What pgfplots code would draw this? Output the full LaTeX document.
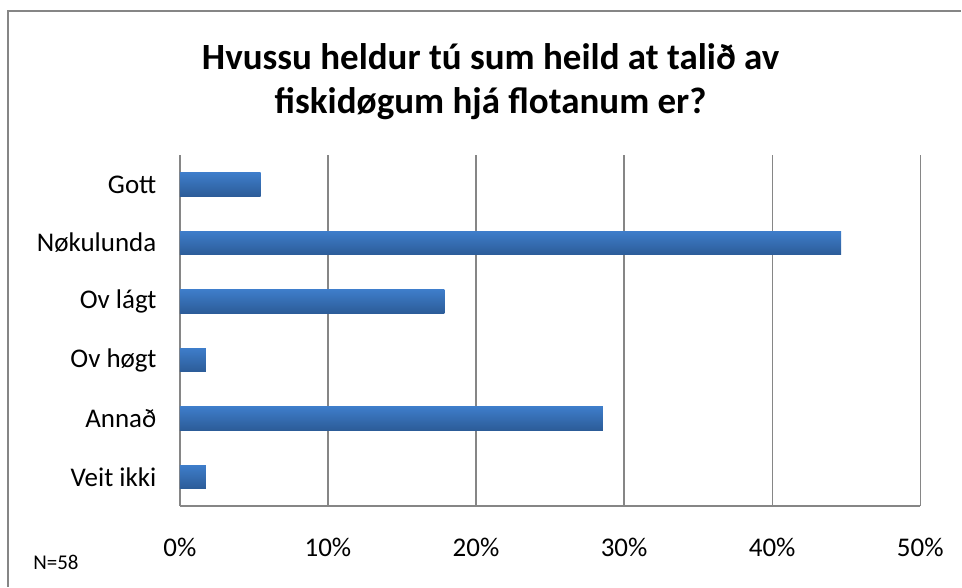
\documentclass[border=0pt]{standalone}
\usepackage{pgfplots}
\pgfplotsset{compat=1.18}
\usepackage{fontspec}
\setmainfont{Carlito}
\definecolor{gridgray}{RGB}{134,134,134}
\definecolor{bartop}{RGB}{62,125,202}
\definecolor{barbot}{RGB}{44,92,152}
\begin{document}
\begin{tikzpicture}[x=1pt,y=1pt]
\path (0,0) rectangle (962,587);
\draw[gridgray, line width=1.6pt] (8,0) -- (8,576) -- (962,576);
\node[font=\fontsize{37}{44}\selectfont\bfseries, align=center] at (491,505)
  {Hvussu heldur tú sum heild at talið av\\fiskidøgum hjá flotanum er?};
\node[font=\fontsize{21}{25}\selectfont] at (56,24) {N=58};
\begin{axis}[
  at={(180pt,80.5pt)}, anchor=south west,
  width=741pt, height=351pt, scale only axis,
  xmin=0, xmax=50,
  ymin=-0.5, ymax=5.5, y dir=reverse,
  xtick={0,10,20,30,40,50},
  xticklabels={0\%,10\%,20\%,30\%,40\%,50\%},
  ytick={0,1,2,3,4,5},
  yticklabels={Gott,Nøkulunda,Ov lágt,Ov høgt,Annað,Veit ikki},
  major tick length=0pt,
  xmajorgrids,
  grid style={gridgray, line width=1.3pt},
  axis x line*=bottom, axis y line*=left,
  axis line style={gridgray, line width=1.3pt, -},
  ticklabel style={font=\fontsize{27}{32}\selectfont},
  xticklabel style={yshift=-29pt},
  yticklabel style={xshift=-20pt},
  xbar, bar width=23.5pt, bar shift=0pt,
  every axis plot/.append style={draw=none, top color=bartop, bottom color=barbot},
  clip=false,
]
\addplot coordinates {(5.45,0)};
\addplot coordinates {(44.65,1)};
\addplot coordinates {(17.86,2)};
\addplot coordinates {(1.75,3)};
\addplot coordinates {(28.56,4)};
\addplot coordinates {(1.75,5)};
\end{axis}
\end{tikzpicture}
\end{document}
